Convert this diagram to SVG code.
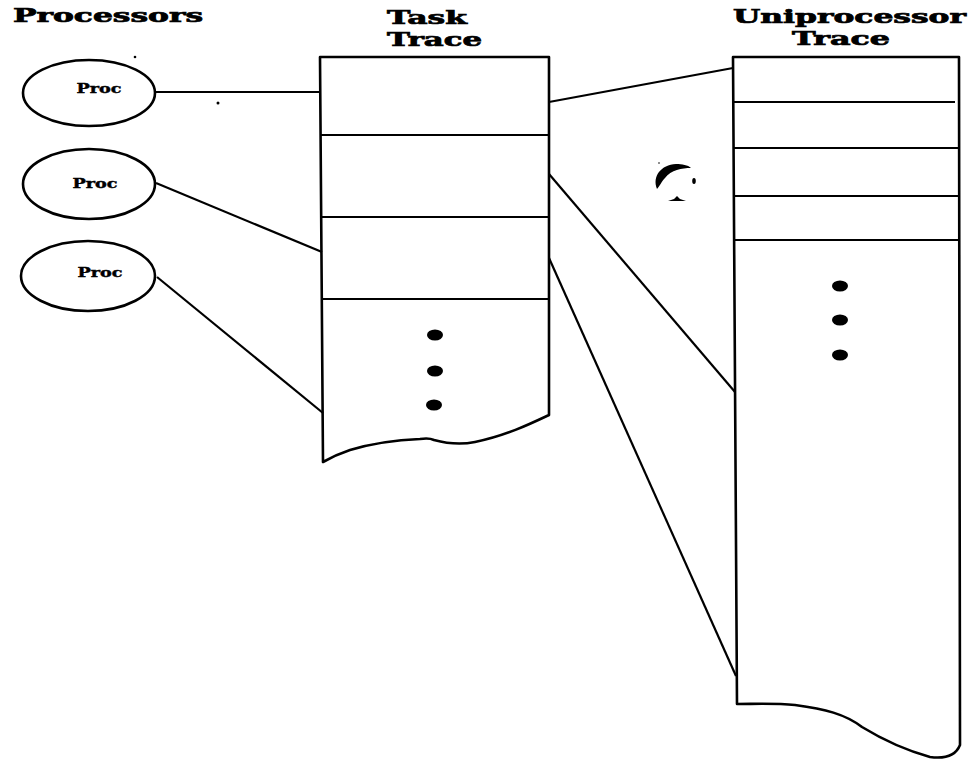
<svg xmlns="http://www.w3.org/2000/svg" width="972" height="759" viewBox="0 0 972 759">
  <style>
    .title { font-family: "DejaVu Serif", "Liberation Serif", serif; font-weight: bold; font-size: 18px; fill: #000; stroke: #000; stroke-width: 0.7; }
    .label { font-family: "DejaVu Serif", "Liberation Serif", serif; font-weight: bold; font-size: 12px; fill: #000; stroke: #000; stroke-width: 0.4; }
    .shape { fill: none; stroke: #000; stroke-width: 2.6; stroke-linejoin: round; }
    .div { stroke: #000; stroke-width: 2.2; }
    .link { fill: none; stroke: #000; stroke-width: 2.2; }
    .dot { fill: #000; }
  </style>
  <rect width="972" height="759" fill="#fff"/>

  <!-- column headings -->
  <g id="headings">
    <text class="title" x="13" y="22" textLength="190" lengthAdjust="spacingAndGlyphs">Processors</text>
    <text class="title" x="387" y="24" textLength="80" lengthAdjust="spacingAndGlyphs">Task</text>
    <text class="title" x="387" y="46" textLength="95" lengthAdjust="spacingAndGlyphs">Trace</text>
    <text class="title" x="733" y="23" textLength="233" lengthAdjust="spacingAndGlyphs">Uniprocessor</text>
    <text class="title" x="792" y="45" textLength="98" lengthAdjust="spacingAndGlyphs">Trace</text>
  </g>

  <!-- processors -->
  <g id="proc1">
    <ellipse class="shape" cx="89" cy="93" rx="66" ry="33"/>
    <text class="label" x="99" y="93" text-anchor="middle" textLength="45" lengthAdjust="spacingAndGlyphs">Proc</text>
  </g>
  <g id="proc2">
    <ellipse class="shape" cx="89" cy="184" rx="66" ry="35"/>
    <text class="label" x="95" y="188" text-anchor="middle" textLength="45" lengthAdjust="spacingAndGlyphs">Proc</text>
  </g>
  <g id="proc3">
    <ellipse class="shape" cx="88" cy="276" rx="67" ry="35"/>
    <text class="label" x="100" y="277" text-anchor="middle" textLength="45" lengthAdjust="spacingAndGlyphs">Proc</text>
  </g>

  <!-- task trace: stacked records with a torn bottom edge -->
  <g id="task-trace">
    <path class="shape" d="M323,462 L320,57 L549,57 L549,415 C530,424 505,436 475,442 C460,445 445,443 434,440 C430,438 426,438 420,439 C395,440 370,444 350,450 C338,454 330,458 323,462 Z"/>
    <line class="div" x1="320" y1="135" x2="549" y2="135"/>
    <line class="div" x1="321" y1="217" x2="549" y2="217"/>
    <line class="div" x1="322" y1="299" x2="549" y2="299"/>
    <ellipse class="dot" cx="435" cy="335" rx="8" ry="5.5"/>
    <ellipse class="dot" cx="435" cy="371" rx="8" ry="5.5"/>
    <ellipse class="dot" cx="434" cy="405" rx="8" ry="5.5"/>
  </g>

  <!-- uniprocessor trace -->
  <g id="uni-trace">
    <path class="shape" d="M737,704 L733,57 L959,57 L960,745 C956,755 945,759 930,757 C905,750 880,738 862,727 C845,714 825,709 795,705 C775,703 755,704 737,704 Z"/>
    <line class="div" x1="733" y1="102" x2="955" y2="102"/>
    <line class="div" x1="733" y1="148" x2="959" y2="148"/>
    <line class="div" x1="733" y1="196" x2="959" y2="196"/>
    <line class="div" x1="734" y1="240" x2="959" y2="240"/>
    <ellipse class="dot" cx="840" cy="286" rx="8" ry="5.5"/>
    <ellipse class="dot" cx="840" cy="320" rx="8" ry="5.5"/>
    <ellipse class="dot" cx="840" cy="355" rx="8" ry="5.5"/>
  </g>

  <!-- connectors -->
  <g id="connectors">
    <line class="link" x1="155" y1="92" x2="320" y2="92"/>
    <line class="link" x1="156" y1="183" x2="322" y2="252"/>
    <line class="link" x1="157" y1="277" x2="323" y2="413"/>
    <line class="link" x1="549" y1="102" x2="733" y2="68"/>
    <line class="link" x1="549" y1="174" x2="735" y2="392"/>
    <line class="link" x1="549" y1="258" x2="736" y2="676"/>
  </g>

  <!-- stray print marks -->
  <g id="marks">
    <circle class="dot" cx="135" cy="57" r="1.3"/>
    <circle class="dot" cx="218" cy="103" r="1.5"/>
    <path d="M657,189 C652,176 661,165 676,164 C682,164 688,165 691,168 C682,168 671,170 665,178 C661,182 660,186 657,189 Z" fill="#000"/>
    <ellipse class="dot" cx="694" cy="181" rx="1.8" ry="3"/>
    <path d="M668,201 L674,199 L677,196 L680,199 L686,201 Z" fill="#000"/>
    <circle class="dot" cx="659" cy="163" r="0.8"/>
  </g>
</svg>
